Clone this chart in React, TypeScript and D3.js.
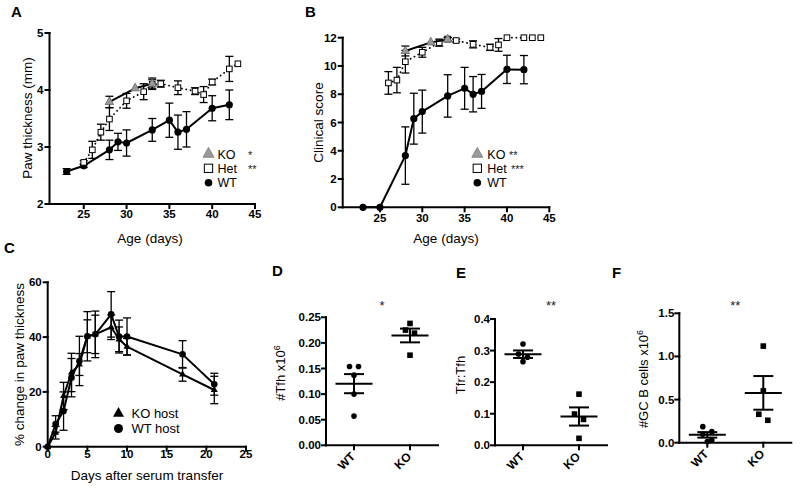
import React from "react";
import * as d3 from "d3";

// ---------- Panel A: paw thickness (mm) vs age (days)
const ageA_KO = [28, 31, 33];
const pawA_KO = [3.79, 4.03, 4.11];
const pawA_KOErr = [0.1, 0, 0.1];
const ageA_Het = [25, 26, 27, 28, 30, 32, 33, 34, 36, 38, 39, 40, 42, 43];
const pawA_Het = [2.73, 2.95, 3.26, 3.49, 3.81, 3.97, 4.1, 4.11, 4.04, 3.98, 3.92, 4.14, 4.37, 4.46];
const pawA_HetErr = [0.03, 0.15, 0.14, 0.2, 0.13, 0.14, 0.08, 0.06, 0.12, 0.06, 0.14, 0.05, 0.22, 0];
const ageA_WT = [23, 25, 28, 29, 30, 33, 35, 36, 37, 40, 42];
const pawA_WT = [2.57, 2.67, 2.95, 3.09, 3.07, 3.3, 3.47, 3.26, 3.31, 3.68, 3.74];
const pawA_WTErr = [0.05, 0.03, 0.17, 0.15, 0.23, 0.2, 0.3, 0.3, 0.31, 0.22, 0.26];
const ticksA_X = [25, 30, 35, 40, 45];
const ticksA_Y = [2, 3, 4, 5];

// ---------- Panel B: clinical score vs age (days)
const ageB_KO = [28, 31, 33];
const scoreB_KO = [11.06, 11.67, 11.88];
const scoreB_KOErr = [0.35, 0, 0.15];
const ageB_Het = [26, 27, 28, 30, 32, 33, 34, 36, 38, 39, 40, 42, 43, 44];
const scoreB_Het = [8.8, 9.0, 10.3, 10.97, 11.65, 11.9, 11.8, 11.53, 11.32, 11.49, 12, 12, 12, 12];
const scoreB_HetErr = [0.8, 0.9, 0.8, 0.35, 0.25, 0.1, 0.1, 0.25, 0.22, 0.45, 0, 0, 0, 0];
const ageB_WT = [23, 25, 28, 29, 30, 33, 35, 36, 37, 40, 42];
const scoreB_WT = [0, 0, 3.66, 6.27, 6.77, 7.88, 8.42, 8.0, 8.2, 9.76, 9.74];
const scoreB_WTErr = [0, 0, 2.03, 1.8, 1.52, 1.5, 1.48, 1.25, 1.2, 1.0, 1.0];
const ticksB_X = [25, 30, 35, 40, 45];
const ticksB_Y = [0, 2, 4, 6, 8, 10, 12];

// ---------- Panel C: % change in paw thickness vs days after serum transfer
const daysC = [0, 1, 2, 3, 4, 5, 6, 8, 9, 10, 17, 21];
const pctC_KO = [0, 5.1, 18.5, 27.1, 30, 40.3, 41, 43.6, 39.2, 36.5, 26.4, 20.7];
const pctC_KOErr = [0, 2.3, 5, 7, 4, 6, 7, 4.5, 4.5, 3, 2.5, 5];
const pctC_WT = [0, 8.3, 13, 25.2, 31.3, 40.3, 41, 48.3, 40.2, 40.2, 33.7, 22.8];
const pctC_WTErr = [0, 3, 7, 7, 9, 9, 8.5, 8.3, 6, 6.8, 5, 4];
const ticksC_X = [0, 5, 10, 15, 20, 25];
const ticksC_Y = [0, 20, 40, 60];

// ---------- Panels D, E, F: dot plots
const groups = ["WT", "KO"];
const tfhWT = [0.154, 0.154, 0.137, 0.1, 0.057];
const tfhKO = [0.238, 0.225, 0.219, 0.176];
const ratioWT = [0.321, 0.289, 0.279, 0.265];
const ratioKO = [0.162, 0.099, 0.082, 0.022];
const gcbWT = [0.186, 0.128, 0.097, 0.031, 0.012];
const gcbKO = [1.12, 0.6, 0.33, 0.26];
const ticksD = [0, 0.05, 0.1, 0.15, 0.2, 0.25];
const ticksE = [0, 0.1, 0.2, 0.3, 0.4];
const ticksF = [0, 0.5, 1, 1.5];

const FONT = "'Liberation Sans', Arial, Helvetica, sans-serif";

type Kind = "circle" | "square" | "triangle";

function Marker({ kind, cx, cy, size, fill, stroke, sw = 1 }: any) {
  if (kind === "circle") return <circle cx={cx} cy={cy} r={size / 2} fill={fill} stroke={stroke} strokeWidth={sw} />;
  if (kind === "square")
    return <rect x={cx - size / 2} y={cy - size / 2} width={size} height={size} fill={fill} stroke={stroke} strokeWidth={sw} />;
  const h = size * 0.9;
  const d = `M${cx},${cy - (h * 2) / 3}L${cx + size / 2},${cy + h / 3}L${cx - size / 2},${cy + h / 3}Z`;
  return <path d={d} fill={fill} stroke={stroke} strokeWidth={sw} strokeLinejoin="round" />;
}

type Ser = {
  xs: number[];
  ys: number[];
  err: number[];
  kind: Kind;
  size: number;
  fill: string;
  stroke: string;
  msw: number;
  dotted?: boolean;
  lineW: number;
};

function LinePanel({ xDom, xRng, yDom, yRng, xTicks, yTicks, series, cap, xLabOff }: any) {
  const x = d3.scaleLinear().domain(xDom).range(xRng);
  const y = d3.scaleLinear().domain(yDom).range(yRng);
  const x0 = xRng[0];
  const y0 = yRng[0];
  const line = d3.line();
  return (
    <g>
      {(series as Ser[]).map((s, si) => {
        const pts: [number, number][] = s.xs.map((xv, i) => [x(xv), y(s.ys[i])]);
        return (
          <g key={si}>
            <path
              d={line(pts) || ""}
              fill="none"
              stroke="#000"
              strokeWidth={s.lineW}
              strokeDasharray={s.dotted ? "0.1 4.3" : undefined}
              strokeLinecap={s.dotted ? "round" : "butt"}
              strokeLinejoin="round"
            />
            {s.xs.map((xv, i) =>
              s.err[i] > 0 ? (
                <g key={i} stroke="#000" strokeWidth={1.3}>
                  <line x1={x(xv)} x2={x(xv)} y1={y(s.ys[i] - s.err[i])} y2={y(s.ys[i] + s.err[i])} />
                  <line x1={x(xv) - cap} x2={x(xv) + cap} y1={y(s.ys[i] - s.err[i])} y2={y(s.ys[i] - s.err[i])} />
                  <line x1={x(xv) - cap} x2={x(xv) + cap} y1={y(s.ys[i] + s.err[i])} y2={y(s.ys[i] + s.err[i])} />
                </g>
              ) : null
            )}
            {pts.map((p, i) => (
              <Marker key={i} kind={s.kind} cx={p[0]} cy={p[1]} size={s.size} fill={s.fill} stroke={s.stroke} sw={s.msw} />
            ))}
          </g>
        );
      })}
      <g stroke="#000" strokeWidth={2} strokeLinecap="square">
        <line x1={x0} x2={x0} y1={y0} y2={y(yDom[1])} />
        <line x1={x0} x2={xRng[1]} y1={y0} y2={y0} />
        {(yTicks as number[]).map((t) => (
          <line key={"yt" + t} x1={x0 - 4} x2={x0} y1={y(t)} y2={y(t)} />
        ))}
        {(xTicks as number[]).map((t) => (
          <line key={"xt" + t} x1={x(t)} x2={x(t)} y1={y0} y2={y0 + 4} />
        ))}
      </g>
      <g fontFamily={FONT} fontSize={11.5} fontWeight="bold" fill="#000">
        {(yTicks as number[]).map((t) => (
          <text key={"yl" + t} x={x0 - 6} y={y(t) + 4} textAnchor="end">
            {t}
          </text>
        ))}
        {(xTicks as number[]).map((t) => (
          <text key={"xl" + t} x={x(t)} y={y0 + xLabOff} textAnchor="middle">
            {t}
          </text>
        ))}
      </g>
    </g>
  );
}

function swarm(vals: number[], y: (v: number) => number, thresh = 6.5, spacing = 9) {
  const idx = vals.map((_, i) => i).sort((a, b) => vals[b] - vals[a]);
  const rows: number[][] = [];
  let cur: number[] = [];
  let start = 0;
  for (const i of idx) {
    const py = y(vals[i]);
    if (cur.length && Math.abs(py - start) <= thresh) cur.push(i);
    else {
      if (cur.length) rows.push(cur);
      cur = [i];
      start = py;
    }
  }
  if (cur.length) rows.push(cur);
  const off = vals.map(() => 0);
  rows.forEach((r) => r.forEach((i, k) => (off[i] = (k - (r.length - 1) / 2) * spacing)));
  return off;
}

function DotPanel({ x0, x1, yBase, yTop, yMax, ticks, fmt, data, kinds, star }: any) {
  const xs = d3.scalePoint().domain(groups).range([x0, x1]).padding(0.5);
  const y = d3.scaleLinear().domain([0, yMax]).range([yBase, yTop]);
  return (
    <g>
      {groups.map((g, gi) => {
        const vals: number[] = data[gi];
        const cx = xs(g) as number;
        const off = swarm(vals, y);
        const m = d3.mean(vals) as number;
        const sem = (d3.deviation(vals) as number) / Math.sqrt(vals.length);
        return (
          <g key={g}>
            {vals.map((v, i) => (
              <Marker key={i} kind={kinds[gi]} cx={cx + off[i]} cy={y(v)} size={5.6} fill="#000" stroke="none" sw={0} />
            ))}
            <g stroke="#000" strokeWidth={2}>
              <line x1={cx - 18.5} x2={cx + 18.5} y1={y(m)} y2={y(m)} />
              <line x1={cx} x2={cx} y1={y(m - sem)} y2={y(m + sem)} />
              <line x1={cx - 10} x2={cx + 10} y1={y(m - sem)} y2={y(m - sem)} />
              <line x1={cx - 10} x2={cx + 10} y1={y(m + sem)} y2={y(m + sem)} />
            </g>
          </g>
        );
      })}
      <g stroke="#000" strokeWidth={2} strokeLinecap="square">
        <line x1={x0} x2={x0} y1={yBase} y2={y(yMax)} />
        <line x1={x0} x2={x1} y1={yBase} y2={yBase} />
        {(ticks as number[]).map((t) => (
          <line key={"t" + t} x1={x0 - 4} x2={x0} y1={y(t)} y2={y(t)} />
        ))}
        {groups.map((g) => (
          <line key={"c" + g} x1={xs(g) as number} x2={xs(g) as number} y1={yBase} y2={yBase + 4} />
        ))}
      </g>
      <g fontFamily={FONT} fontSize={11.5} fontWeight="bold" fill="#000">
        {(ticks as number[]).map((t) => (
          <text key={"l" + t} x={x0 - 5} y={y(t) + 4} textAnchor="end">
            {fmt(t)}
          </text>
        ))}
        {groups.map((g) => {
          const px = (xs(g) as number) + 2;
          const py = yBase + 12;
          return (
            <text key={"g" + g} x={px} y={py} textAnchor="end" transform={`rotate(-45 ${px} ${py})`} fontSize={12}>
              {g}
            </text>
          );
        })}
      </g>
      <text x={(x0 + x1) / 2} y={310} textAnchor="middle" fontFamily={FONT} fontSize={13} fill="#222">
        {star}
      </text>
    </g>
  );
}

function LegendRow({ kind, x, y, size, fill, stroke, sw, label, stars, tx, sx, fs = 12.5 }: any) {
  return (
    <g>
      <Marker kind={kind} cx={x} cy={y} size={size} fill={fill} stroke={stroke} sw={sw} />
      <text x={tx} y={y + 4.5} fontFamily={FONT} fontSize={fs} fill="#000">
        {label}
      </text>
      {stars ? (
        <text x={sx} y={y + 5} fontFamily={FONT} fontSize={11} fill="#222">
          {stars}
        </text>
      ) : null}
    </g>
  );
}

const KO_GRAY = "#9a9a9a";

export default function App() {
  const seriesA: Ser[] = [
    { xs: ageA_WT, ys: pawA_WT, err: pawA_WTErr, kind: "circle", size: 7.2, fill: "#000", stroke: "none", msw: 0, lineW: 2 },
    { xs: ageA_Het, ys: pawA_Het, err: pawA_HetErr, kind: "square", size: 5.6, fill: "#fff", stroke: "#000", msw: 1, dotted: true, lineW: 1.8 },
    { xs: ageA_KO, ys: pawA_KO, err: pawA_KOErr, kind: "triangle", size: 8.5, fill: KO_GRAY, stroke: "#666", msw: 0.8, lineW: 2 },
  ];
  const seriesB: Ser[] = [
    { xs: ageB_WT, ys: scoreB_WT, err: scoreB_WTErr, kind: "circle", size: 7.2, fill: "#000", stroke: "none", msw: 0, lineW: 2 },
    { xs: ageB_Het, ys: scoreB_Het, err: scoreB_HetErr, kind: "square", size: 5.6, fill: "#fff", stroke: "#000", msw: 1, dotted: true, lineW: 1.8 },
    { xs: ageB_KO, ys: scoreB_KO, err: scoreB_KOErr, kind: "triangle", size: 8.5, fill: KO_GRAY, stroke: "#666", msw: 0.8, lineW: 2 },
  ];
  const seriesC: Ser[] = [
    { xs: daysC, ys: pctC_KO, err: pctC_KOErr, kind: "triangle", size: 7, fill: "#000", stroke: "none", msw: 0, lineW: 2 },
    { xs: daysC, ys: pctC_WT, err: pctC_WTErr, kind: "circle", size: 6.6, fill: "#000", stroke: "none", msw: 0, lineW: 2 },
  ];
  const fmt2 = (t: number) => t.toFixed(2);
  const fmt1 = (t: number) => t.toFixed(1);
  return (
    <svg width={800} height={489} style={{ position: "absolute", left: 0, top: 0, background: "#fff" }}>
      <rect width={800} height={489} fill="#fff" />
      <g fontFamily={FONT} fontWeight="bold" fontSize={15} fill="#000">
        <text x={11} y={17}>A</text>
        <text x={305} y={17}>B</text>
        <text x={4} y={253}>C</text>
        <text x={272} y={276}>D</text>
        <text x={456} y={278}>E</text>
        <text x={612} y={278}>F</text>
      </g>

      {/* Panel A */}
      <LinePanel xDom={[21, 45]} xRng={[49.5, 255]} yDom={[2, 5]} yRng={[204, 33]} xTicks={ticksA_X} yTicks={ticksA_Y} series={seriesA} cap={4} xLabOff={13.5} />
      <text transform="translate(31.5,118) rotate(-90)" textAnchor="middle" fontFamily={FONT} fontSize={13.5}>
        Paw thickness (mm)
      </text>
      <text x={150} y={243} textAnchor="middle" fontFamily={FONT} fontSize={13.5}>
        Age (days)
      </text>
      <LegendRow kind="triangle" x={208.5} y={154} size={11} fill={KO_GRAY} stroke="#777" sw={0.8} label="KO" stars="*" tx={217.5} sx={248} />
      <LegendRow kind="square" x={208.5} y={168.3} size={8.3} fill="#fff" stroke="#000" sw={1} label="Het" stars="**" tx={217.5} sx={248} />
      <LegendRow kind="circle" x={208.5} y={182.7} size={7.6} fill="#000" stroke="none" sw={0} label="WT" tx={217.5} />

      {/* Panel B */}
      <LinePanel xDom={[20.6, 45]} xRng={[342.7, 549.3]} yDom={[0, 12]} yRng={[207.3, 37.7]} xTicks={ticksB_X} yTicks={ticksB_Y} series={seriesB} cap={4} xLabOff={14.3} />
      <text transform="translate(323,122.5) rotate(-90)" textAnchor="middle" fontFamily={FONT} fontSize={13.5}>
        Clinical score
      </text>
      <text x={446} y={243} textAnchor="middle" fontFamily={FONT} fontSize={13.5}>
        Age (days)
      </text>
      <LegendRow kind="triangle" x={477.3} y={154} size={11} fill={KO_GRAY} stroke="#777" sw={0.8} label="KO" stars="**" tx={487.3} sx={509} />
      <LegendRow kind="square" x={477.3} y={168.3} size={8.3} fill="#fff" stroke="#000" sw={1} label="Het" stars="***" tx={487.3} sx={511} />
      <LegendRow kind="circle" x={477.3} y={182.7} size={7.6} fill="#000" stroke="none" sw={0} label="WT" tx={487.3} />

      {/* Panel C */}
      <LinePanel xDom={[0, 25]} xRng={[47.7, 246]} yDom={[0, 60]} yRng={[446.7, 282.3]} xTicks={ticksC_X} yTicks={ticksC_Y} series={seriesC} cap={4} xLabOff={11.5} />
      <text transform="translate(24,364.5) rotate(-90)" textAnchor="middle" fontFamily={FONT} fontSize={13.5}>
        % change in paw thickness
      </text>
      <text x={147} y={480} textAnchor="middle" fontFamily={FONT} fontSize={13.5}>
        Days after serum transfer
      </text>
      <LegendRow kind="triangle" x={118.5} y={413.5} size={11} fill="#000" stroke="none" sw={0} label="KO host" tx={131.5} fs={13} />
      <LegendRow kind="circle" x={118.5} y={428.5} size={9} fill="#000" stroke="none" sw={0} label="WT host" tx={131.5} fs={13} />

      {/* Panel D */}
      <DotPanel x0={326} x1={438} yBase={445.3} yTop={317.3} yMax={0.25} ticks={ticksD} fmt={fmt2} data={[tfhWT, tfhKO]} kinds={["circle", "square"]} star="*" />
      <text transform="translate(285,373) rotate(-90)" textAnchor="middle" fontFamily={FONT} fontSize={13}>
        #Tfh x10
        <tspan dy={-5} fontSize={9}>6</tspan>
      </text>

      {/* Panel E */}
      <DotPanel x0={495} x1={607} yBase={445.3} yTop={319} yMax={0.4} ticks={ticksE} fmt={fmt1} data={[ratioWT, ratioKO]} kinds={["circle", "square"]} star="**" />
      <text transform="translate(465,375) rotate(-90)" textAnchor="middle" fontFamily={FONT} fontSize={13}>
        Tfr:Tfh
      </text>

      {/* Panel F */}
      <DotPanel x0={679.3} x1={791.3} yBase={442.7} yTop={313.3} yMax={1.5} ticks={ticksF} fmt={fmt1} data={[gcbWT, gcbKO]} kinds={["circle", "square"]} star="**" />
      <text transform="translate(648,379) rotate(-90)" textAnchor="middle" fontFamily={FONT} fontSize={13}>
        #GC B cells x10
        <tspan dy={-5} fontSize={9}>6</tspan>
      </text>
    </svg>
  );
}
